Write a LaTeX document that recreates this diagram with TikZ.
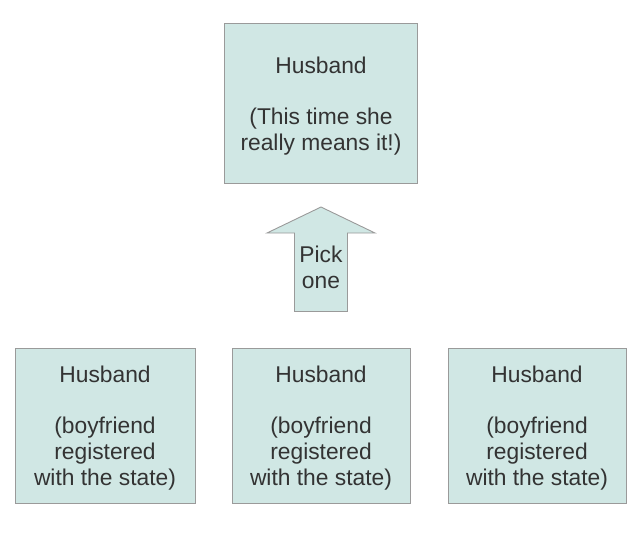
\documentclass[tikz,border=0pt]{standalone}
\usepackage{fontspec}
\setmainfont{Liberation Sans}
\definecolor{boxfill}{HTML}{D0E7E4}
\definecolor{boxline}{HTML}{9A9A9A}
\definecolor{txt}{HTML}{333333}
\begin{document}
\begin{tikzpicture}[x=1pt,y=-1pt,
  hbox/.style={draw=boxline,fill=boxfill,line width=0.9pt,rectangle,inner sep=0pt,
    text=txt,align=center,font=\fontsize{22.8}{25.8}\selectfont},
  lbl/.style={text=txt,align=center,font=\fontsize{22.8}{25.8}\selectfont,inner sep=0pt}]
\useasboundingbox (0,0) rectangle (640,533);
\node[hbox,minimum width=193pt,minimum height=160pt] (top) at (321,103.5) {};
\node[lbl] (toptext) at (321,106)
  {Husband\\[25.8pt](This time she\\really means it!)};
\node[hbox,minimum width=180pt,minimum height=155pt] (b1) at (105,425.8) {};
\node[hbox,minimum width=178pt,minimum height=155pt] (b2) at (321,425.8) {};
\node[hbox,minimum width=178pt,minimum height=155pt] (b3) at (537,425.8) {};
\foreach \b in {b1,b2,b3}
  \node[lbl] (\b text) at ([yshift=-2pt]\b.center)
    {Husband\\[25.8pt](boyfriend\\registered\\with the state)};
\draw[draw=boxline,fill=boxfill,line width=0.9pt,line join=miter]
  (321,207) -- (375,233) -- (347.5,233) -- (347.5,311.5) -- (294.5,311.5)
  -- (294.5,233) -- (267,233) -- cycle;
\node[lbl] (pick) at (321,267) {Pick\\one};
\end{tikzpicture}
\end{document}
